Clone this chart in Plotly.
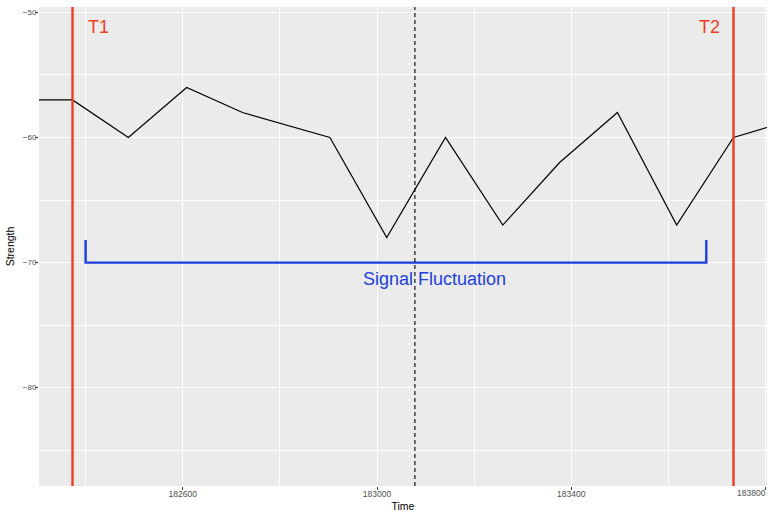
import plotly.graph_objects as go

# ---- data ----
time = [182304, 182373, 182488, 182608, 182723, 182903, 183020, 183141,
        183259, 183376, 183495, 183617, 183734, 183803]
strength = [-57, -57, -60, -56, -58, -60, -68, -60, -67, -62, -58, -67, -60, -59.2]

t1_time = 182373
t2_time = 183734
mid_time = 183078

bracket_x = [182400, 182400, 183678, 183678]
bracket_y = [-68.2, -70, -70, -68.2]

label_t1 = ("T1", 182427, -51.2)
label_t2 = ("T2", 183684, -51.2)
label_sig = ("Signal Fluctuation", 183119, -71.3)

x_ticks = [182600, 183000, 183400, 183800]
x_ticklabels = ["182600", "183000", "183400", "183800"]
y_ticks = [-50, -60, -70, -80]
x_range = [182304, 183803]
y_range = [-87.86, -49.57]

RED = "#EE3D20"
BLUE = "#1C3FDE"
FONT = "Liberation Sans, Arial, Helvetica, sans-serif"

fig = go.Figure()
fig.add_trace(go.Scatter(x=time, y=strength, mode="lines",
                         line=dict(color="black", width=1.2), showlegend=False))
fig.add_trace(go.Scatter(x=bracket_x, y=bracket_y, mode="lines",
                         line=dict(color=BLUE, width=2.4), showlegend=False))

for t in (t1_time, t2_time):
    fig.add_shape(type="line", xref="x", yref="paper", x0=t, x1=t, y0=0, y1=1,
                  line=dict(color=RED, width=2.4))
fig.add_shape(type="line", xref="x", yref="paper", x0=mid_time, x1=mid_time, y0=0, y1=1,
              line=dict(color="black", width=1.1, dash="4px,3px"))

for txt, x, y in (label_t1, label_t2):
    fig.add_annotation(x=x, y=y, text=txt, showarrow=False,
                       font=dict(color=RED, size=18, family=FONT))
fig.add_annotation(x=label_sig[1], y=label_sig[2], text=label_sig[0], showarrow=False,
                   font=dict(color=BLUE, size=18, family=FONT))

# last x tick label sits at the panel edge: draw it right-aligned to its tick
fig.add_annotation(x=x_ticks[-1], xref="x", y=0, yref="paper", yanchor="top",
                   xanchor="right", text=x_ticklabels[-1], showarrow=False,
                   xshift=1, yshift=-1, borderpad=0,
                   font=dict(size=8.5, color="#4D4D4D", family=FONT))

fig.update_layout(
    width=773, height=514,
    margin=dict(l=39, r=6, t=7, b=28),
    paper_bgcolor="white", plot_bgcolor="#EBEBEB",
    font=dict(family=FONT, color="black"),
    xaxis=dict(range=x_range, tickvals=x_ticks, ticktext=x_ticklabels[:-1] + [""],
               showgrid=True, gridcolor="white", gridwidth=1.1,
               minor=dict(dtick=200, tick0=182400, showgrid=True, gridcolor="white",
                          gridwidth=0.55, ticks=""),
               ticks="outside", ticklen=3, tickcolor="#333333", tickwidth=1,
               ticklabelstandoff=-3, ticklabeloverflow="allow",
               tickfont=dict(size=8.5, color="#4D4D4D"), zeroline=False, automargin=False,
               title=dict(text="Time", font=dict(size=10.5), standoff=4)),
    yaxis=dict(range=y_range, tickvals=y_ticks,
               showgrid=True, gridcolor="white", gridwidth=1.1,
               minor=dict(dtick=5, tick0=-85, showgrid=True, gridcolor="white",
                          gridwidth=0.55, ticks=""),
               ticks="outside", ticklen=3, tickcolor="#333333", tickwidth=1,
               ticklabelstandoff=-3, ticklabeloverflow="allow",
               tickfont=dict(size=8, color="#4D4D4D"), zeroline=False, automargin=False,
               title=dict(text="Strength", font=dict(size=10.5), standoff=6)),
)

fig.write_html("out.html", config={"displayModeBar": False},
               post_script="document.body.style.margin='0';document.body.style.padding='0';")
